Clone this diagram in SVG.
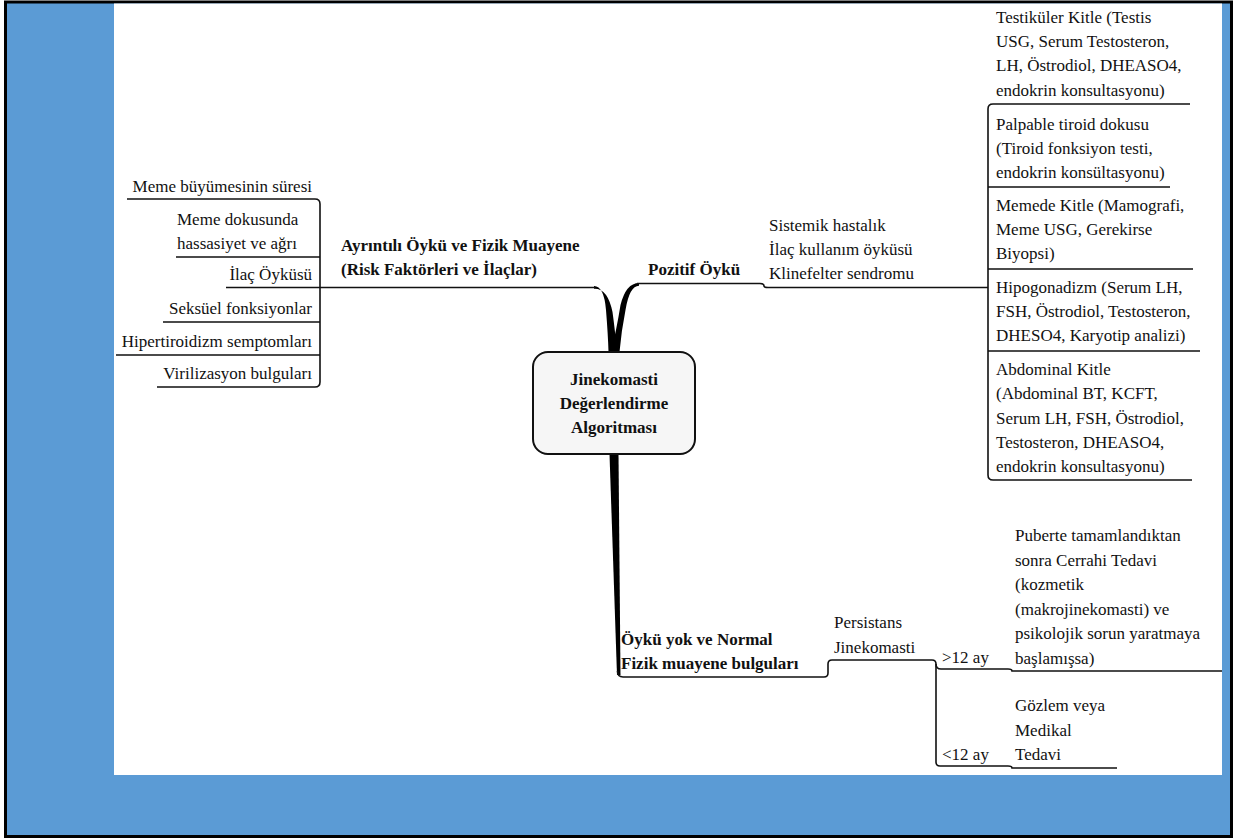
<svg xmlns="http://www.w3.org/2000/svg" width="1234" height="838" viewBox="0 0 1234 838">
<style>
text{font-family:"Liberation Serif","Times New Roman",Times,serif;font-size:17px;fill:#111}
.b{font-weight:bold}
.e{text-anchor:end}
.m{text-anchor:middle}
.ln{fill:none;stroke:#111;stroke-width:1.6}
.thick{fill:#000;stroke:none}
</style>
<rect x="0" y="0" width="1234" height="838" fill="#fff"/>
<rect x="5.5" y="2" width="1226" height="834.5" fill="#5B9BD5" stroke="#000" stroke-width="3"/>
<rect x="114" y="3.5" width="1108" height="771.5" fill="#fff"/>

<g id="connectors">
  <path class="thick" d="M594,286 Q604,286 606,310 Q608,335 608.5,352 L617,352 Q615,330 612.5,312 Q607.5,288 594,288.8 Z"/>
  <path class="thick" d="M639,283 Q626,283 620.5,305 Q616.5,330 611,352 L619.5,352 Q621.5,330 625.5,310 Q629.5,285.8 639,285.8 Z"/>
  <path class="thick" d="M609.5,454 L618.5,454 L620.5,675 L617,675 Z"/>
  <path class="ln" d="M320,287.5 L595,287.5"/>
  <path class="ln" d="M637,283.5 L760,283.5 Q764,283.5 764,286 Q764,287.5 768,287.5 L988,287.5"/>
  <path class="ln" d="M617.5,671 Q617.5,677 623,677 L824,677 Q828,677 828,673 L828,664 Q828,660 832,660 L932,660 Q936,660 936,664 L936,762 Q936,766 940,766 L1008,766 Q1012,766 1012,768 L1117,768"/>
  <path class="ln" d="M936,664 Q936,669 941,669 L1008,669 Q1012,669 1012,671 L1222,671"/>
</g>

<g id="root">
  <rect x="533" y="352" width="162" height="102" rx="15" fill="#f6f6f6" stroke="#111" stroke-width="2"/>
  <text class="b m" x="614" y="385">Jinekomasti</text>
  <text class="b m" x="614" y="409">Değerlendirme</text>
  <text class="b m" x="614" y="433">Algoritması</text>
</g>

<g id="ayrintili">
  <text class="b" x="341" y="251">Ayrıntılı Öykü ve Fizik Muayene</text>
  <text class="b" x="341" y="275">(Risk Faktörleri ve İlaçlar)</text>
</g>

<g id="risk-items">
  <path class="ln" d="M127,199 L315,199 Q320,199 320,204 L320,382 Q320,387 315,387 L157,387"/>
  <path class="ln" d="M176,257 L320,257 M163,322 L320,322 M116,355 L320,355 M226,287.5 L320,287.5"/>
  <text class="e" x="312" y="192">Meme büyümesinin süresi</text>
  <text x="177" y="225">Meme dokusunda</text>
  <text x="177" y="249">hassasiyet ve ağrı</text>
  <text class="e" x="312" y="280">İlaç Öyküsü</text>
  <text class="e" x="312" y="314">Seksüel fonksiyonlar</text>
  <text class="e" x="312" y="347">Hipertiroidizm semptomları</text>
  <text class="e" x="312" y="379">Virilizasyon bulguları</text>
</g>

<g id="pozitif">
  <text class="b" x="648" y="275">Pozitif Öykü</text>
  <text x="769" y="231">Sistemik hastalık</text>
  <text x="769" y="255">İlaç kullanım öyküsü</text>
  <text x="769" y="279">Klinefelter sendromu</text>
</g>

<g id="pozitif-items">
  <path class="ln" d="M1190,104 L993,104 Q988,104 988,109 L988,475 Q988,480 993,480 L1192,480"/>
  <path class="ln" d="M988,187 L1170,187 M988,269 L1193,269 M988,351 L1200,351"/>
  <text x="996" y="23">Testiküler Kitle (Testis</text>
  <text x="996" y="47">USG, Serum Testosteron,</text>
  <text x="996" y="71">LH, Östrodiol, DHEASO4,</text>
  <text x="996" y="96">endokrin konsultasyonu)</text>
  <text x="996" y="130">Palpable tiroid dokusu</text>
  <text x="996" y="154">(Tiroid fonksiyon testi,</text>
  <text x="996" y="178">endokrin konsültasyonu)</text>
  <text x="996" y="211">Memede Kitle (Mamografi,</text>
  <text x="996" y="235">Meme USG, Gerekirse</text>
  <text x="996" y="259">Biyopsi)</text>
  <text x="996" y="293">Hipogonadizm (Serum LH,</text>
  <text x="996" y="317">FSH, Östrodiol, Testosteron,</text>
  <text x="996" y="341">DHESO4, Karyotip analizi)</text>
  <text x="996" y="375">Abdominal Kitle</text>
  <text x="996" y="399">(Abdominal BT, KCFT,</text>
  <text x="996" y="424">Serum LH, FSH, Östrodiol,</text>
  <text x="996" y="448">Testosteron, DHEASO4,</text>
  <text x="996" y="472">endokrin konsultasyonu)</text>
</g>

<g id="normal">
  <text class="b" x="621" y="645">Öykü yok ve Normal</text>
  <text class="b" x="621" y="669">Fizik muayene bulguları</text>
</g>

<g id="persistans">
  <text x="834" y="628">Persistans</text>
  <text x="834" y="653">Jinekomasti</text>
  <text x="942" y="663">&gt;12 ay</text>
  <text x="942" y="760">&lt;12 ay</text>
</g>

<g id="cerrahi">
  <text x="1015" y="541">Puberte tamamlandıktan</text>
  <text x="1015" y="566">sonra Cerrahi Tedavi</text>
  <text x="1015" y="590">(kozmetik</text>
  <text x="1015" y="615">(makrojinekomasti) ve</text>
  <text x="1015" y="639">psikolojik sorun yaratmaya</text>
  <text x="1015" y="664">başlamışsa)</text>
</g>

<g id="medikal">
  <text x="1015" y="711">Gözlem veya</text>
  <text x="1015" y="736">Medikal</text>
  <text x="1015" y="760">Tedavi</text>
</g>
</svg>
